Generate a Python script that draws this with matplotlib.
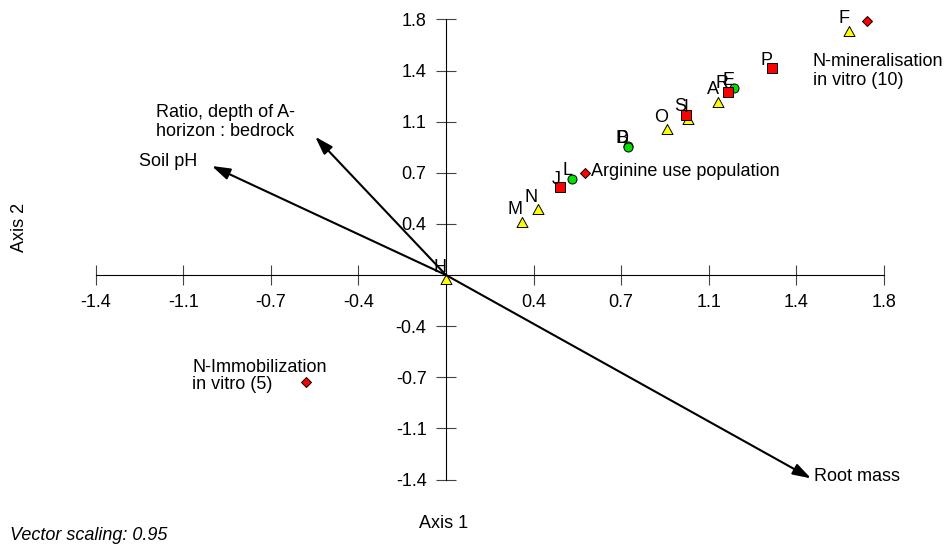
import numpy as np
import matplotlib.pyplot as plt
from matplotlib.path import Path

plt.rcParams['font.family'] = ['Liberation Sans', 'DejaVu Sans']
plt.rcParams['font.size'] = 13

# sample scores on the two ordination axes
tri_labels = ['A', 'F', 'H', 'I', 'M', 'N', 'O']
tri_x = [1.119, 1.656, 0.0, 0.993, 0.311, 0.377, 0.910]
tri_y = [1.249, 1.749, 0.0, 1.127, 0.404, 0.491, 1.056]

sq_labels = ['J', 'P', 'R', 'S']
sq_x = [0.469, 1.339, 1.160, 0.985]
sq_y = [0.618, 1.456, 1.291, 1.129]

circ_labels = ['B', 'D', 'E', 'L']
circ_x = [0.747, 0.750, 1.185, 0.517]
circ_y = [0.906, 0.903, 1.315, 0.678]

# group centroids
dia_names = ['Arginine use population', 'N-mineralisation\nin vitro (10)',
             'N-Immobilization\nin vitro (5)']
dia_x = [0.573, 1.733, -0.575]
dia_y = [0.720, 1.791, -0.756]

# environmental vectors (joint plot)
vec_names = ['Soil pH', 'Ratio, depth of A-\nhorizon : bedrock', 'Root mass']
vec_x = [-0.963, -0.538, 1.501]
vec_y = [0.768, 0.974, -1.432]

tick_vals = [-1.44, -1.08, -0.72, -0.36, 0.36, 0.72, 1.08, 1.44, 1.8]
tick_labels = ['-1.4', '-1.1', '-0.7', '-0.4', '0.4', '0.7', '1.1', '1.4', '1.8']

# triangle hanging just below its point
tri = Path([(-1, -1.64), (1, -1.64), (0, 0.18), (-1, -1.64)],
           [Path.MOVETO, Path.LINETO, Path.LINETO, Path.CLOSEPOLY])

fig = plt.figure(figsize=(9.47, 5.45), dpi=100)
ax = fig.add_axes([0, 0, 1, 1])
ax.set_xlim(-1.834, 2.060)
ax.set_ylim(-1.901, 1.937)

for s in ['top', 'right']:
    ax.spines[s].set_visible(False)
for s in ['left', 'bottom']:
    ax.spines[s].set_position('zero')
    ax.spines[s].set_bounds(-1.44, 1.8)
    ax.spines[s].set_linewidth(0.8)
ax.set_xticks(tick_vals, tick_labels)
ax.set_yticks(tick_vals, tick_labels)
ax.tick_params(direction='inout', length=14, width=0.8, color='#444444')
ax.tick_params(axis='x', pad=6.5)
ax.tick_params(axis='y', pad=7)

ax.plot(tri_x, tri_y, ls='none', marker=tri, ms=13, mfc='#ffff00', mec='k', mew=0.7, zorder=3)
ax.plot(circ_x, circ_y, ls='none', marker='o', ms=6.5, mfc='#00e000', mec='k', mew=0.7, zorder=4)
ax.plot(sq_x, sq_y, ls='none', marker='s', ms=6.8, mfc='#ff0000', mec='k', mew=0.7, zorder=5)
ax.plot(dia_x, dia_y, ls='none', marker='D', ms=5.2, mfc='#ff0000', mec='k', mew=0.7, zorder=5)

for labs, xs, ys in [(tri_labels, tri_x, tri_y), (circ_labels, circ_x, circ_y),
                     (sq_labels, sq_x, sq_y)]:
    for lab, x, y in zip(labs, xs, ys):
        ax.annotate(lab, (x, y), xytext=(0.3, 2.5), textcoords='offset points',
                    ha='right', va='baseline', zorder=6)

ax.annotate(dia_names[0], (dia_x[0], dia_y[0]), xytext=(4, -2.2),
            textcoords='offset points', ha='left', va='baseline')
ax.annotate(dia_names[1], (dia_x[1], dia_y[1]), xytext=(-39.4, -36.2),
            textcoords='offset points', ha='left', va='center', linespacing=1.1)
ax.annotate(dia_names[2], (dia_x[2], dia_y[2]), xytext=(-82, 4.8),
            textcoords='offset points', ha='left', va='center', linespacing=1.0)

vec_off = [(-10.8, 3), (-14.4, 10.6), (2.4, 1.4)]
vec_ha = ['right', 'right', 'left']
for name, x, y, off, ha in zip(vec_names, vec_x, vec_y, vec_off, vec_ha):
    ax.annotate('', xy=(x, y), xytext=(0, 0),
                arrowprops=dict(arrowstyle='-|>,head_length=1.1,head_width=0.35',
                                color='k', lw=1.5, shrinkA=0, shrinkB=0,
                                mutation_scale=10), zorder=4)
    ax.annotate(name, (x, y), xytext=off, textcoords='offset points',
                ha=ha, va='center', multialignment='left', linespacing=1.1)

fig.text(444 / 947, 1 - 523 / 545, 'Axis 1', ha='center', va='center')
fig.text(20 / 947, 1 - 227 / 545, 'Axis 2', rotation=90, ha='center', va='center')
fig.text(10 / 947, 1 - 535 / 545, 'Vector scaling: 0.95', style='italic',
         ha='left', va='center')

fig.savefig('out.png', dpi=100)
